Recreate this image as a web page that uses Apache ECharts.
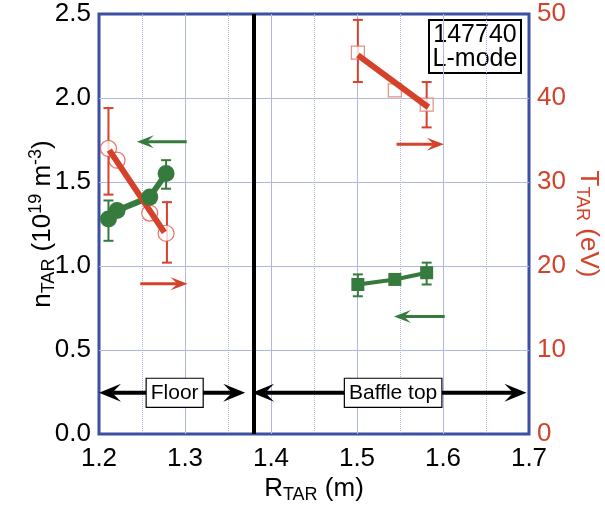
<!DOCTYPE html>
<html>
<head>
<meta charset="utf-8">
<script src="https://cdn.jsdelivr.net/npm/echarts@6/dist/echarts.min.js"></script>
<style>
html, body { margin: 0; padding: 0; background: #fff; }
#chart { width: 605px; height: 514px; }
</style>
</head>
<body>
<div id="chart"></div>
<script>
// floor: density (left axis)
var floorR = [1.211, 1.221, 1.259, 1.278];
var floorN = [1.28, 1.33, 1.41, 1.55];
var floorNErrR = [1.211, 1.278];
var floorNLo = [1.15, 1.46];
var floorNHi = [1.39, 1.63];
// floor: temperature (right axis)
var floorT = [34.0, 32.6, 26.3, 23.9];
var floorTErrR = [1.211, 1.279];
var floorTLo = [28.5, 20.4];
var floorTHi = [38.8, 27.6];
var floorTFitR = [1.212, 1.276];
var floorTFit = [33.8, 24.0];
// baffle top
var baffleR = [1.501, 1.544, 1.581];
var baffleN = [0.89, 0.92, 0.96];
var baffleNErrR = [1.501, 1.581];
var baffleNLo = [0.82, 0.89];
var baffleNHi = [0.95, 1.02];
var baffleT = [45.4, 40.9, 39.2];
var baffleTErrR = [1.501, 1.581];
var baffleTLo = [41.9, 36.5];
var baffleTHi = [49.3, 41.9];
var baffleTFitR = [1.501, 1.583];
var baffleTFit = [45.1, 38.9];
// axis arrows: [from R, to R, value]
var nArrows = [[1.302, 1.244, 1.74], [1.602, 1.543, 0.70]];
var tArrows = [[1.248, 1.303, 17.9], [1.546, 1.601, 34.5]];
// regions
var regionNames = ['Floor', 'Baffle top'];
var regionFrom = [1.2, 1.378];
var regionTo = [1.370, 1.697];
var regionLabelR = [1.288, 1.542];
var regionN = 0.245;
var boundaryR = 1.375;

var GREEN = '#367b3d', RED = '#d5422b', BLUE = '#3b4fa3', GRIDC = '#b0b8e0';
var FONT = '"Liberation Sans", Arial, sans-serif';

function zip(a, b) { return a.map(function (v, i) { return [v, b[i]]; }); }
function zip3(a, b, c) { return a.map(function (v, i) { return [v, b[i], c[i]]; }); }

function errRender(color) {
  return function (params, api) {
    var top = api.coord([api.value(0), api.value(2)]);
    var bot = api.coord([api.value(0), api.value(1)]);
    var w = 5, st = { stroke: color, lineWidth: 2 };
    return { type: 'group', children: [
      { type: 'line', shape: { x1: top[0], y1: top[1], x2: bot[0], y2: bot[1] }, style: st },
      { type: 'line', shape: { x1: top[0] - w, y1: top[1], x2: top[0] + w, y2: top[1] }, style: st },
      { type: 'line', shape: { x1: bot[0] - w, y1: bot[1], x2: bot[0] + w, y2: bot[1] }, style: st }
    ] };
  };
}

function head(tip, dir, len, half, color) {
  return { type: 'polygon', shape: { points: [
    [tip[0], tip[1]],
    [tip[0] - dir * len, tip[1] - half],
    [tip[0] - dir * len * 0.6, tip[1]],
    [tip[0] - dir * len, tip[1] + half]
  ] }, style: { fill: color } };
}

function arrowRender(color) {
  return function (params, api) {
    var p1 = api.coord([api.value(0), api.value(2)]);
    var p2 = api.coord([api.value(1), api.value(2)]);
    var dir = p2[0] > p1[0] ? 1 : -1, len = 17;
    return { type: 'group', children: [
      { type: 'line', shape: { x1: p1[0], y1: p1[1], x2: p2[0] - dir * len * 0.6, y2: p2[1] },
        style: { stroke: color, lineWidth: 3 } },
      head(p2, dir, len, 6.5, color)
    ] };
  };
}

function regionRender(params, api) {
  var a = api.coord([api.value(0), api.value(2)]);
  var b = api.coord([api.value(1), api.value(2)]);
  var c = api.coord([api.value(3), api.value(2)]);
  var len = 22;
  return { type: 'group', children: [
    { type: 'line', shape: { x1: a[0] + len * 0.6, y1: a[1], x2: b[0] - len * 0.6, y2: b[1] },
      style: { stroke: '#000', lineWidth: 4 } },
    head(b, 1, len, 9, '#000'),
    head(a, -1, len, 9, '#000'),
    { type: 'text', x: c[0], y: c[1], style: {
      text: regionNames[params.dataIndex], font: '21px ' + FONT, fill: '#000',
      align: 'center', verticalAlign: 'middle', backgroundColor: '#fff',
      borderColor: '#000', borderWidth: 1.2, padding: [4, 4, 3, 4] } }
  ] };
}

var chart = echarts.init(document.getElementById('chart'));
chart.setOption({
  animation: false,
  textStyle: { fontFamily: FONT },
  grid: { left: 99, right: 76, top: 14, bottom: 80, outerBoundsMode: 'none', containLabel: false,
    show: true, borderColor: BLUE, borderWidth: 3, backgroundColor: '#fff' },
  xAxis: {
    type: 'value', min: 1.2, max: 1.7, interval: 0.1,
    name: '{m|R}{s|TAR}{m| (m)}', nameLocation: 'middle', nameGap: 40, nameMoveOverlap: false,
    nameTextStyle: { rich: {
      m: { fontSize: 26, color: '#000', fontFamily: FONT },
      s: { fontSize: 18, color: '#000', fontFamily: FONT, padding: [12, 0, 0, 0] }
    } },
    axisLine: { show: false }, axisTick: { show: false },
    axisLabel: { fontSize: 26, color: '#000', margin: 12, formatter: function (v) { return v.toFixed(1); } },
    splitLine: { show: true, showMinLine: false, showMaxLine: false, lineStyle: { color: GRIDC, width: 1 } },
    minorTick: { show: false, splitNumber: 2 },
    minorSplitLine: { show: true, lineStyle: { color: GRIDC, width: 1, type: 'dotted' } }
  },
  yAxis: [{
    type: 'value', min: 0, max: 2.5, interval: 0.5,
    name: '{m|n}{s|TAR}{m| (10}{u|19}{m| m}{u|-3}{m|)}', nameLocation: 'middle', nameGap: 40, nameMoveOverlap: false,
    nameTextStyle: { rich: {
      m: { fontSize: 26, color: '#000', fontFamily: FONT },
      s: { fontSize: 18, color: '#000', fontFamily: FONT, padding: [12, 0, 0, 0] },
      u: { fontSize: 18, color: '#000', fontFamily: FONT, padding: [0, 0, 14, 0] }
    } },
    axisLine: { show: false }, axisTick: { show: false },
    axisLabel: { fontSize: 26, color: '#000', margin: 8, formatter: function (v) { return v.toFixed(1); } },
    splitLine: { show: true, showMinLine: false, showMaxLine: false, lineStyle: { color: GRIDC, width: 1 } }
  }, {
    type: 'value', min: 0, max: 50, interval: 10, position: 'right',
    name: '{m|T}{s|TAR}{m| (eV)}', nameLocation: 'middle', nameGap: 44, nameRotate: -90, nameMoveOverlap: false,
    nameTextStyle: { rich: {
      m: { fontSize: 26, color: RED, fontFamily: FONT },
      s: { fontSize: 18, color: RED, fontFamily: FONT, padding: [12, 0, 0, 0] }
    } },
    axisLine: { show: false }, axisTick: { show: false },
    axisLabel: { fontSize: 26, color: RED, margin: 8 },
    splitLine: { show: false }
  }],
  graphic: [{
    type: 'group', left: 428, top: 19, children: [
      { type: 'rect', shape: { x: 0, y: 0, width: 92, height: 53 }, style: { fill: '#fff', stroke: '#000', lineWidth: 2 } },
      { type: 'text', x: 46, y: 27, style: { text: '147740\nL-mode', font: '25px ' + FONT, fill: '#000',
        align: 'center', verticalAlign: 'middle', lineHeight: 24 } }
    ]
  }],
  series: [
    {
      type: 'custom', name: 'regions', yAxisIndex: 0, renderItem: regionRender,
      data: regionNames.map(function (n, i) { return [regionFrom[i], regionTo[i], regionN, regionLabelR[i]]; }),
      markLine: { silent: true, symbol: 'none', label: { show: false },
        lineStyle: { color: '#000', width: 4, type: 'solid' }, data: [{ xAxis: boundaryR }] }
    },
    { type: 'custom', yAxisIndex: 0, renderItem: arrowRender(GREEN), data: nArrows },
    { type: 'custom', yAxisIndex: 1, renderItem: arrowRender(RED), data: tArrows },
    { type: 'custom', yAxisIndex: 0, renderItem: errRender(GREEN), data: zip3(floorNErrR, floorNLo, floorNHi) },
    { type: 'custom', yAxisIndex: 0, renderItem: errRender(GREEN), data: zip3(baffleNErrR, baffleNLo, baffleNHi) },
    {
      type: 'line', yAxisIndex: 0, data: zip(floorR, floorN), symbol: 'circle', symbolSize: 17,
      lineStyle: { color: GREEN, width: 6 }, itemStyle: { color: GREEN }
    },
    {
      type: 'line', yAxisIndex: 0, data: zip(baffleR, baffleN), symbol: 'rect', symbolSize: 13,
      lineStyle: { color: GREEN, width: 4 }, itemStyle: { color: GREEN }
    },
    { type: 'custom', yAxisIndex: 1, renderItem: errRender(RED), data: zip3(floorTErrR, floorTLo, floorTHi) },
    { type: 'custom', yAxisIndex: 1, renderItem: errRender(RED), data: zip3(baffleTErrR, baffleTLo, baffleTHi) },
    {
      type: 'scatter', yAxisIndex: 1, data: zip(floorR, floorT), symbol: 'circle', symbolSize: 16,
      itemStyle: { color: '#fff', borderColor: '#e0503c', borderWidth: 1.2 }
    },
    {
      type: 'scatter', yAxisIndex: 1, data: zip(baffleR, baffleT), symbol: 'rect', symbolSize: 13,
      itemStyle: { color: '#fff', borderColor: '#e0705f', borderWidth: 1.2 }
    },
    {
      type: 'line', yAxisIndex: 1, data: zip(floorTFitR, floorTFit), symbol: 'none',
      lineStyle: { color: RED, width: 6 }
    },
    {
      type: 'line', yAxisIndex: 1, data: zip(baffleTFitR, baffleTFit), symbol: 'none',
      lineStyle: { color: RED, width: 6 }
    }
  ]
});
</script>
</body>
</html>
